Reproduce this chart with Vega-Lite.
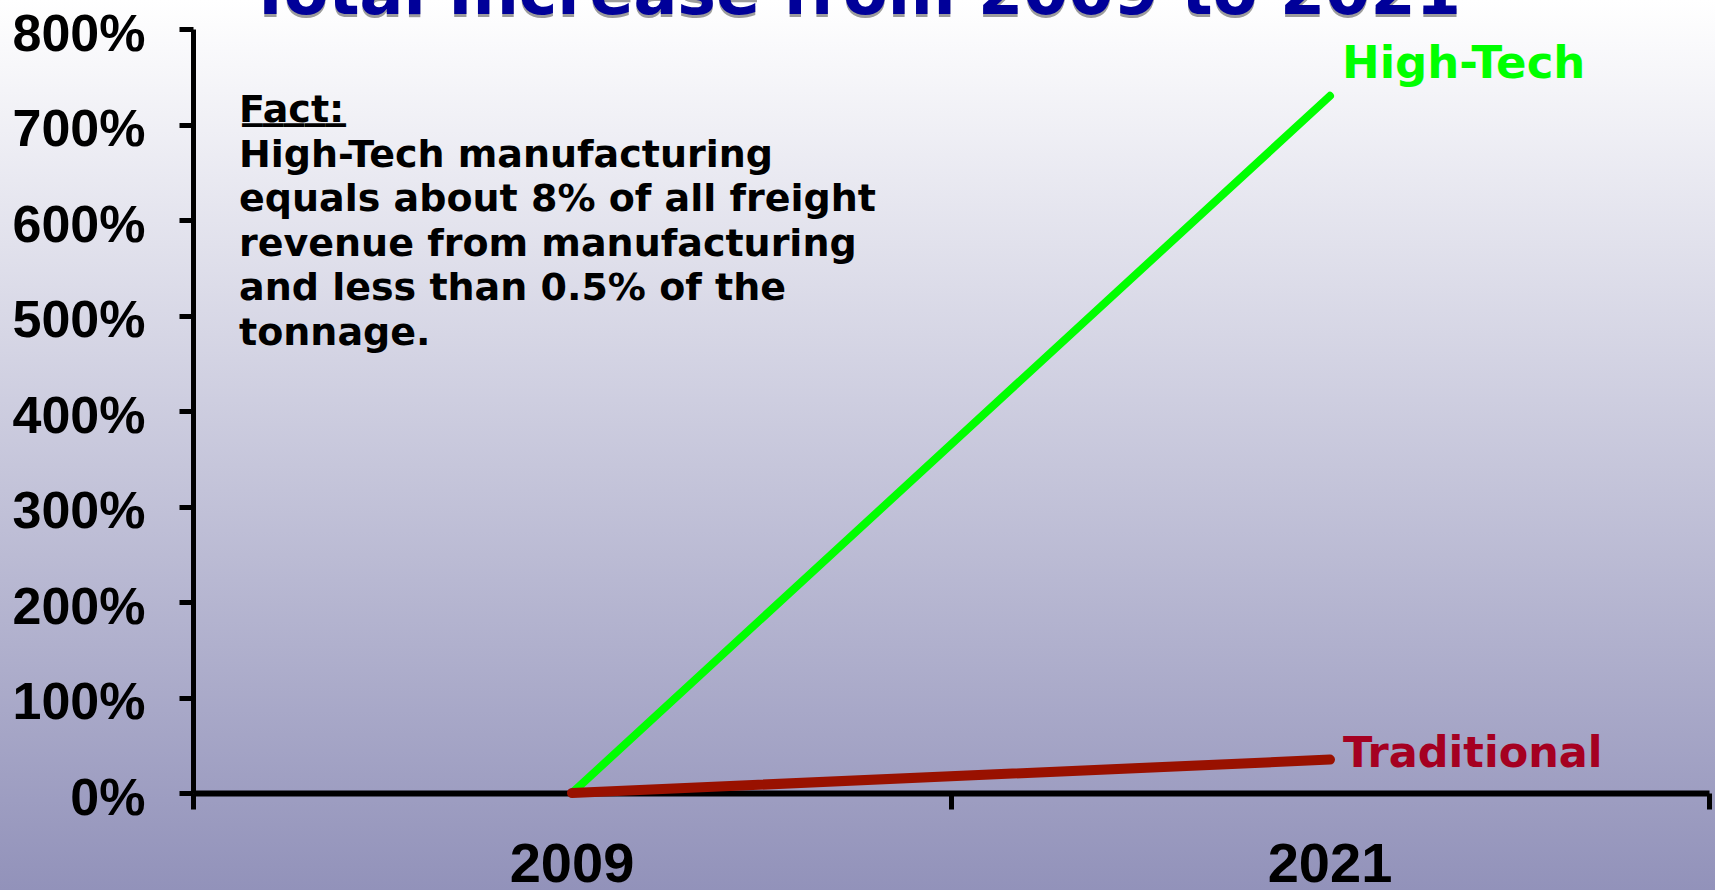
{
  "$schema": "https://vega.github.io/schema/vega-lite/v6.json",
  "width": 1715,
  "height": 890,
  "autosize": {"type": "none"},
  "padding": 0,
  "background": "#FFFFFF",
  "view": {
    "stroke": null,
    "fill": {
      "gradient": "linear",
      "x1": 0, "y1": 0, "x2": 0, "y2": 1,
      "stops": [
        {"offset": 0, "color": "#FFFFFF"},
        {"offset": 1, "color": "#9292BA"}
      ]
    }
  },
  "title": {
    "text": "Total Increase from 2009 to 2021",
    "subtitle": "Total Increase from 2009 to 2021",
    "frame": "group",
    "anchor": "middle",
    "orient": "top",
    "offset": 0,
    "font": "DejaVu Sans",
    "fontSize": 65,
    "fontWeight": "bold",
    "color": "#9C9C9C",
    "subtitleFont": "DejaVu Sans",
    "subtitleFontSize": 65,
    "subtitleFontWeight": "bold",
    "subtitleColor": "#000099",
    "subtitlePadding": -68,
    "dx": -3,
    "dy": 34
  },
  "data": {
    "values": [
      {"year": "2009", "series": "High-Tech", "value": 0},
      {"year": "2021", "series": "High-Tech", "value": 730},
      {"year": "2009", "series": "Traditional", "value": 0},
      {"year": "2021", "series": "Traditional", "value": 35}
    ]
  },
  "encoding": {
    "x": {
      "field": "year",
      "type": "ordinal",
      "scale": {"type": "band", "domain": ["2009", "2021"], "range": [193, 1709], "paddingInner": 0, "paddingOuter": 0},
      "axis": {
        "orient": "bottom",
        "offset": -97,
        "title": null,
        "grid": false,
        "bandPosition": 1,
        "tickExtra": true,
        "labelAngle": 0,
        "domainColor": "#000000",
        "domainWidth": 6,
        "tickColor": "#000000",
        "tickWidth": 5,
        "tickSize": 16,
        "labelFont": "Liberation Sans",
        "labelFontSize": 56,
        "labelFontWeight": "bold",
        "labelColor": "#000000",
        "labelPadding": 28
      }
    },
    "y": {
      "field": "value",
      "type": "quantitative",
      "scale": {"domain": [0, 800], "range": [793, 29], "nice": false, "zero": true},
      "axis": {
        "orient": "left",
        "offset": -193,
        "title": null,
        "grid": false,
        "values": [0, 100, 200, 300, 400, 500, 600, 700, 800],
        "labelExpr": "datum.value + '%'",
        "domainColor": "#000000",
        "domainWidth": 5,
        "tickColor": "#000000",
        "tickWidth": 5,
        "tickSize": 14,
        "labelFont": "Liberation Sans",
        "labelFontSize": 52,
        "labelFontWeight": "bold",
        "labelColor": "#000000",
        "labelPadding": 34,
        "labelOffset": 5,
        "labelFlush": false,
        "labelOverlap": false,
        "labelBound": false
      }
    }
  },
  "layer": [
    {
      "transform": [{"filter": "datum.series == 'High-Tech'"}],
      "mark": {"type": "line", "color": "#00FF00", "strokeWidth": 8, "strokeCap": "round", "strokeJoin": "round"}
    },
    {
      "transform": [{"filter": "datum.series == 'Traditional'"}],
      "mark": {"type": "line", "color": "#991100", "strokeWidth": 10, "strokeCap": "round", "strokeJoin": "round"}
    },
    {
      "transform": [{"filter": "datum.series == 'High-Tech' && datum.year == '2021'"}],
      "mark": {"type": "text", "align": "left", "baseline": "alphabetic", "dx": 12, "dy": -18, "font": "DejaVu Sans", "fontSize": 45, "fontWeight": "bold", "color": "#00FF00"},
      "encoding": {"text": {"field": "series"}}
    },
    {
      "transform": [{"filter": "datum.series == 'Traditional' && datum.year == '2021'"}],
      "mark": {"type": "text", "align": "left", "baseline": "alphabetic", "dx": 13, "dy": 7.5, "font": "DejaVu Sans", "fontSize": 43, "fontWeight": "bold", "color": "#A50021"},
      "encoding": {"text": {"field": "series"}}
    },
    {
      "transform": [{"filter": "datum.series == 'High-Tech' && datum.year == '2009'"}],
      "mark": {
        "type": "text",
        "align": "left",
        "baseline": "alphabetic",
        "dx": -333,
        "dy": -2.5,
        "font": "DejaVu Sans",
        "fontSize": 38,
        "fontWeight": "bold",
        "color": "#000000",
        "lineHeight": 44.6,
        "text": [
          "Fact:",
          "High-Tech manufacturing",
          "equals about 8% of all freight",
          "revenue from manufacturing",
          "and less than 0.5% of the",
          "tonnage."
        ]
      },
      "encoding": {
        "x": {"datum": "2009", "type": "ordinal"},
        "y": {"datum": 700, "type": "quantitative"}
      }
    },
    {
      "transform": [{"filter": "datum.series == 'High-Tech' && datum.year == '2009'"}],
      "mark": {
        "type": "text",
        "align": "left",
        "baseline": "alphabetic",
        "dx": -330,
        "dy": -7.9,
        "font": "DejaVu Sans",
        "fontSize": 41.6,
        "fontWeight": "bold",
        "color": "#000000",
        "text": "_____"
      },
      "encoding": {
        "x": {"datum": "2009", "type": "ordinal"},
        "y": {"datum": 700, "type": "quantitative"}
      }
    }
  ]
}
